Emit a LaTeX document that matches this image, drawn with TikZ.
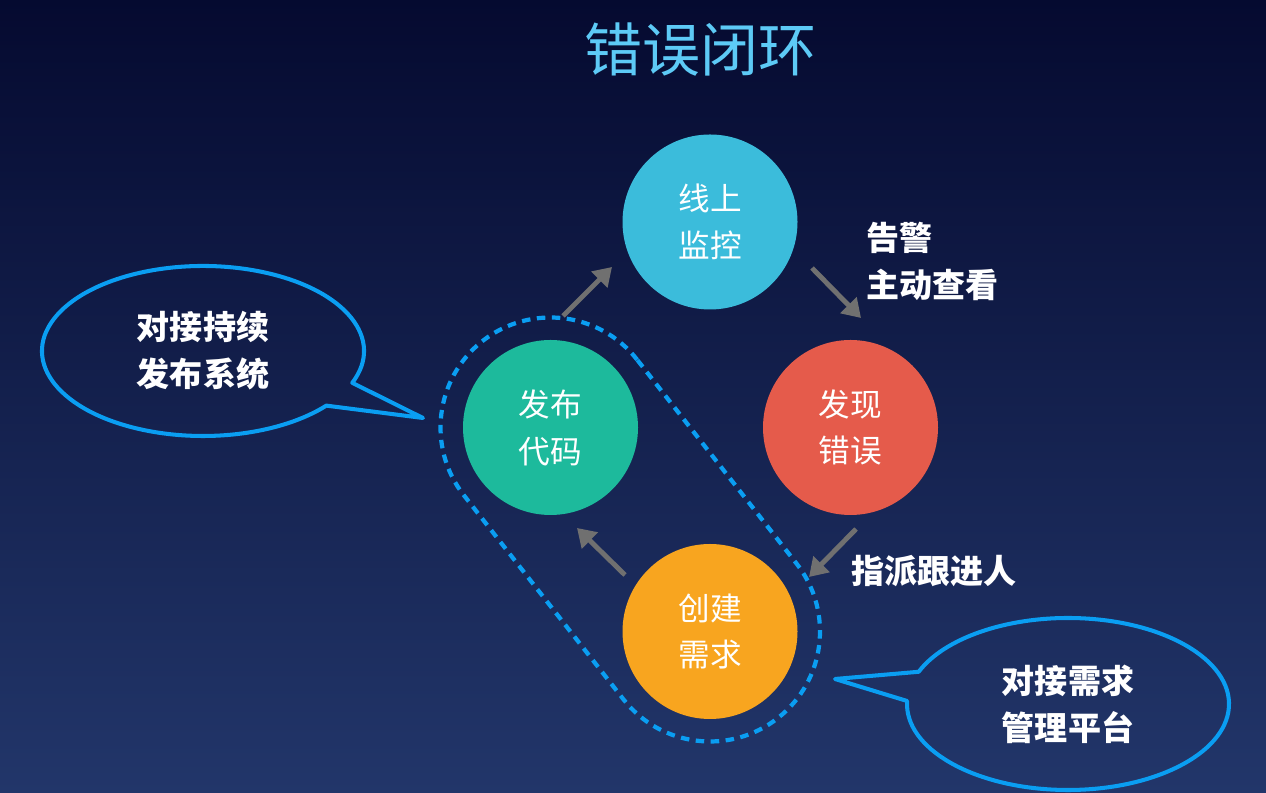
\documentclass[tikz,border=0pt]{standalone}
\usepackage{fontspec}
\setmainfont{Noto Sans CJK SC}
\usetikzlibrary{positioning,calc,arrows.meta}
\definecolor{NightTop}{RGB}{5,10,48}
\definecolor{NightBot}{RGB}{34,54,106}
\definecolor{TitleBlue}{RGB}{93,202,246}
\definecolor{MonBlue}{RGB}{59,188,219}
\definecolor{BugRed}{RGB}{229,91,75}
\definecolor{PubGreen}{RGB}{29,186,156}
\definecolor{ReqOrange}{RGB}{248,165,31}
\definecolor{ArrowGray}{RGB}{112,112,112}
\definecolor{LoopBlue}{RGB}{10,158,242}
\tikzset{
  stage/.style={circle,fill=#1,minimum size=3.5cm,inner sep=0pt,text=white,align=center,
    font=\fontsize{18}{26.7}\selectfont},
  flow/.style={draw=ArrowGray,line width=2.8pt,-{Triangle[length=0.36cm,width=0.44cm]}},
  note/.style={text=white,inner sep=0pt,font=\fontsize{18.8}{26.7}\selectfont\bfseries},
}
\tikzset{bubble/.style={draw=LoopBlue,line width=2.3pt,line join=round}, loop/.style={draw=LoopBlue,line width=2.4pt,dash pattern=on 0.17cm off 0.13cm}}

\begin{document}
\begin{tikzpicture}
\shade[top color=NightTop,bottom color=NightBot] (0,0) rectangle (25.32,15.86);
\useasboundingbox (0,0) rectangle (25.32,15.86);
\node[text=TitleBlue,font=\fontsize{33}{38}\selectfont] (title) at (14.0,14.86) {错误闭环};
\node[stage=MonBlue] (mon) at (14.2,11.42) {线上\\监控};
\node[stage=BugRed] (bug) at (17.01,7.31) {发现\\错误};
\node[stage=PubGreen] (pub) at (11.01,7.31) {发布\\代码};
\node[stage=ReqOrange] (req) at (14.2,3.23) {创建\\需求};
\draw[flow] ($(pub)+(0.25,2.23)$) -- ++(0.98,0.98);
\draw[flow] ($(mon)+(2.04,-0.92)$) -- ++(0.98,-1.0);
\draw[flow] ($(bug)+(0.11,-2.03)$) -- ++(-0.94,-0.96);
\draw[flow] ($(req)+(-1.70,1.13)$) -- ++(-0.96,0.94);
\node[note,anchor=west,align=left] (alarm) at (17.32,10.63) {告警\\主动查看};
\node[note,anchor=west] (assign) at (17.02,4.44) {指派跟进人};
\draw[loop] let \p1=($(req)-(pub)$), \n1={atan2(\y1,\x1)} in
  ($(pub)+(\n1+90:2.2)$) arc[start angle=\n1+90,end angle=\n1+270,radius=2.2]
  -- ($(req)+(\n1-90:2.2)$) arc[start angle=\n1-90,end angle=\n1+90,radius=2.2] -- cycle;
\coordinate (lb) at (4.06,8.84);
\coordinate (ltip) at (8.46,7.50);
\coordinate (rb) at (21.36,1.78);
\coordinate (rtip) at (16.70,2.28);
\draw[bubble] ($(lb)+(-22:3.22 and 1.7)$) arc[start angle=-22,end angle=320,x radius=3.22,y radius=1.7] -- (ltip) -- cycle;
\draw[bubble] ($(rb)+(178:3.22 and 1.72)$) arc[start angle=178,end angle=518,x radius=3.22,y radius=1.72] -- (rtip) -- cycle;
\node[note,align=center] (cdtext) at (lb) {对接持续\\发布系统};
\node[note,align=center] (pmtext) at (rb) {对接需求\\管理平台};
\end{tikzpicture}
\end{document}
